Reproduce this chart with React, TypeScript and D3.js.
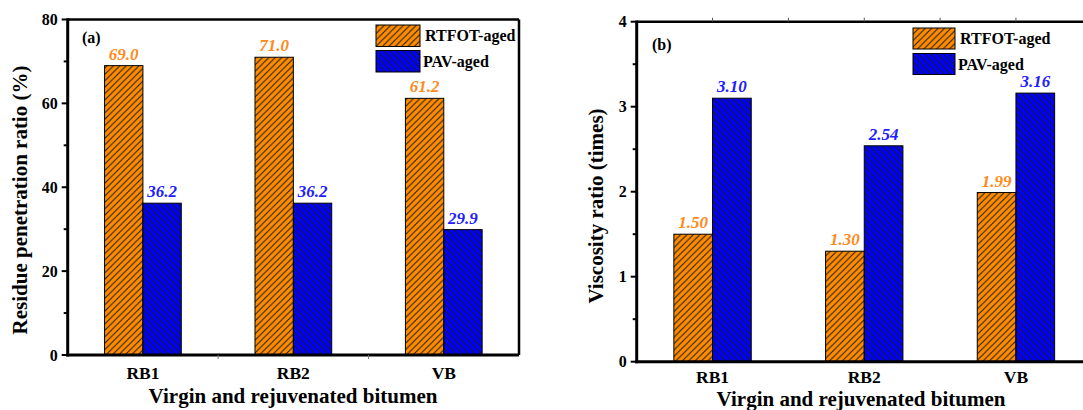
import React from "react";
import * as d3 from "d3";

const categories = ["RB1", "RB2", "VB"];
const seriesNames = ["RTFOT-aged", "PAV-aged"];
const penRTFOT = [69.0, 71.0, 61.2];
const penPAV = [36.2, 36.2, 29.9];
const viscRTFOT = [1.5, 1.3, 1.99];
const viscPAV = [3.1, 2.54, 3.16];
const penTicks = [0, 20, 40, 60, 80];
const viscTicks = [0, 1, 2, 3, 4];

const FONT = "'Liberation Serif', 'Times New Roman', serif";
const ORANGE = "#ff8c00";
const BLUE = "#0000ff";
const ORANGE_TXT = "#ff8a1c";
const BLUE_TXT = "#2020ff";

type PanelProps = {
  tag: string;
  x0: number;
  x1: number;
  yTop: number;
  yBot: number;
  domainMax: number;
  ticks: number[];
  s1: number[];
  s2: number[];
  digits: number;
  yTitle: string;
  yTitleX: number;
  yTitleY: number;
  tagPos: [number, number];
  legend: { x: number; y: number; w: number; h: number; gap: number; tx: number };
  catDy: number;
  titleDy: number;
  titleX: number;
  clipRight: boolean;
  topTicks: boolean;
  bottomMidTicks: boolean;
};

function Panel(p: PanelProps) {
  const x = d3
    .scaleBand<string>()
    .domain(categories)
    .range([p.x0, p.x1])
    .paddingInner(0.49)
    .paddingOuter(0.245);
  const xs = d3.scaleBand<string>().domain(seriesNames).range([0, x.bandwidth()]).padding(0);
  const y = d3.scaleLinear().domain([0, p.domainMax]).range([p.yBot, p.yTop]);
  const minor = d3.range(0, p.domainMax, p.ticks[1] - p.ticks[0]).map((v) => v + (p.ticks[1] - p.ticks[0]) / 2);
  const series = [
    { name: seriesNames[0], vals: p.s1, fill: "url(#hatchO)", txt: ORANGE_TXT },
    { name: seriesNames[1], vals: p.s2, fill: "url(#hatchB)", txt: BLUE_TXT },
  ];
  const step = x.step();
  const centers = categories.map((c) => (x(c) as number) + x.bandwidth() / 2);
  const mids = centers.slice(0, -1).map((c) => c + step / 2);
  const xRight = p.clipRight ? 1090 : p.x1;
  return (
    <g fontFamily={FONT} fontWeight="bold">
      {series.map((s) =>
        categories.map((c, i) => {
          const bx = (x(c) as number) + (xs(s.name) as number);
          const w = xs.bandwidth();
          const v = s.vals[i];
          return (
            <g key={s.name + c}>
              <rect x={bx} y={y(v)} width={w} height={p.yBot - y(v)} fill={s.fill} stroke="#000" strokeWidth={1} />
              <text
                x={bx + w / 2}
                y={y(v) - 6}
                textAnchor="middle"
                fontSize={17}
                fontStyle="italic"
                fill={s.txt}
              >
                {v.toFixed(p.digits)}
              </text>
            </g>
          );
        })
      )}
      <line x1={p.x0} x2={xRight} y1={p.yTop} y2={p.yTop} stroke="#000" strokeWidth={2.5} />
      {!p.clipRight && <line x1={p.x1} x2={p.x1} y1={p.yTop} y2={p.yBot} stroke="#000" strokeWidth={2.5} />}
      <line x1={p.x0} x2={p.x0} y1={p.yTop - 1.2} y2={p.yBot + 1.5} stroke="#000" strokeWidth={3} />
      <line x1={p.x0 - 1.5} x2={xRight} y1={p.yBot} y2={p.yBot} stroke="#000" strokeWidth={3} />
      {p.ticks.map((t) => (
        <g key={"t" + t}>
          <line x1={p.x0 - 6} x2={p.x0} y1={y(t)} y2={y(t)} stroke="#000" strokeWidth={2} />
          <text x={p.x0 - 10} y={y(t) + 5.5} textAnchor="end" fontSize={16} fill="#000">
            {t}
          </text>
        </g>
      ))}
      {minor.map((t) => (
        <line key={"m" + t} x1={p.x0 - 4} x2={p.x0} y1={y(t)} y2={y(t)} stroke="#000" strokeWidth={2} />
      ))}
      {p.topTicks &&
        [...centers, ...mids].map((c, i) => (
          <line key={"tt" + i} x1={c} x2={c} y1={p.yTop - 4} y2={p.yTop} stroke="#555" strokeWidth={1} />
        ))}
      {p.bottomMidTicks &&
        mids.map((c, i) => (
          <line key={"bt" + i} x1={c} x2={c} y1={p.yBot} y2={p.yBot + 4} stroke="#777" strokeWidth={1} />
        ))}
      {categories.map((c, i) => (
        <text key={c} x={centers[i]} y={p.yBot + p.catDy} textAnchor="middle" fontSize={17.5} fill="#000">
          {c}
        </text>
      ))}
      <text x={p.titleX} y={p.yBot + p.titleDy} textAnchor="middle" fontSize={21} fill="#000">
        Virgin and rejuvenated bitumen
      </text>
      <text
        transform={`translate(${p.yTitleX},${p.yTitleY}) rotate(-90)`}
        textAnchor="middle"
        fontSize={21}
        fill="#000"
      >
        {p.yTitle}
      </text>
      <text x={p.tagPos[0]} y={p.tagPos[1]} fontSize={16} fill="#000">
        {p.tag}
      </text>
      {series.map((s, i) => (
        <g key={"lg" + s.name}>
          <rect
            x={p.legend.x}
            y={p.legend.y + i * (p.legend.h + p.legend.gap)}
            width={p.legend.w}
            height={p.legend.h}
            fill={s.fill}
            stroke="#000"
            strokeWidth={1}
          />
          <text
            x={p.legend.tx - (i === 1 ? 2 : 0)}
            y={p.legend.y + i * (p.legend.h + p.legend.gap) + p.legend.h / 2 + 5.5}
            fontSize={16}
            fill="#000"
          >
            {s.name}
          </text>
        </g>
      ))}
    </g>
  );
}

export default function App() {
  const hs = 6.4;
  return (
    <svg
      width={1083}
      height={410}
      style={{ position: "absolute", left: 0, top: 0, background: "#fff" }}
    >
      <defs>
        <pattern id="hatchO" patternUnits="userSpaceOnUse" width={hs} height={hs}>
          <rect width={hs} height={hs} fill={ORANGE} />
          <path
            d={`M0,${hs} L${hs},0 M${-hs / 4},${hs / 4} L${hs / 4},${-hs / 4} M${(hs * 3) / 4},${(hs * 5) / 4} L${(hs * 5) / 4},${(hs * 3) / 4}`}
            stroke="#1a1a1a"
            strokeWidth={1}
          />
        </pattern>
        <pattern id="hatchB" patternUnits="userSpaceOnUse" width={hs} height={hs}>
          <rect width={hs} height={hs} fill={BLUE} />
          <path
            d={`M0,0 L${hs},${hs} M${(hs * 3) / 4},${-hs / 4} L${(hs * 5) / 4},${hs / 4} M${-hs / 4},${(hs * 3) / 4} L${hs / 4},${(hs * 5) / 4}`}
            stroke="#1a1a1a"
            strokeWidth={1}
          />
        </pattern>
      </defs>
      <rect width={1083} height={410} fill="#fff" />
      <Panel
        tag="(a)"
        x0={67.7}
        x1={519}
        yTop={19.5}
        yBot={355}
        domainMax={80}
        ticks={penTicks}
        s1={penRTFOT}
        s2={penPAV}
        digits={1}
        yTitle="Residue penetration ratio (%)"
        yTitleX={27}
        yTitleY={200}
        tagPos={[82, 43]}
        legend={{ x: 376, y: 25, w: 44, h: 21.5, gap: 4, tx: 425 }}
        catDy={24}
        titleDy={48}
        titleX={293}
        clipRight={false}
        topTicks={false}
        bottomMidTicks={true}
      />
      <Panel
        tag="(b)"
        x0={636.7}
        x1={636.7 + 3 * 151.7}
        yTop={21.7}
        yBot={361.7}
        domainMax={4}
        ticks={viscTicks}
        s1={viscRTFOT}
        s2={viscPAV}
        digits={2}
        yTitle="Viscosity ratio (times)"
        yTitleX={603}
        yTitleY={206}
        tagPos={[652, 50]}
        legend={{ x: 913, y: 28, w: 42, h: 21, gap: 4.5, tx: 960 }}
        catDy={21}
        titleDy={44}
        titleX={861}
        clipRight={true}
        topTicks={true}
        bottomMidTicks={false}
      />
    </svg>
  );
}
